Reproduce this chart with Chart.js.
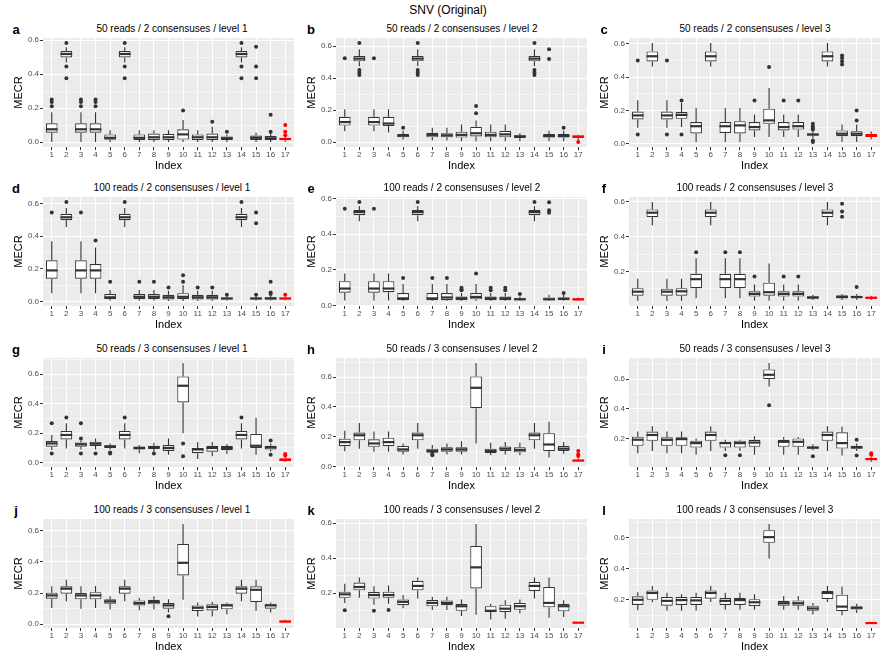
<!DOCTYPE html>
<html lang="en">
<head>
<meta charset="UTF-8">
<title>SNV (Original)</title>
<script src="https://cdn.jsdelivr.net/npm/chart.js"></script>
<style>
  body { margin: 0; background: #fff; font-family: "Liberation Sans", Arial, sans-serif; }
  #page { position: relative; width: 896px; height: 656px; overflow: hidden; }
  .main-title { position: absolute; top: 3px; left: 0; width: 896px; text-align: center; font-size: 12px; color: #000; }
  .letter { position: absolute; font-weight: bold; font-size: 13px; color: #000; transform: translate(-50%, -50%); }
  .sub { position: absolute; font-size: 10px; color: #000; white-space: nowrap; transform: translate(-50%, -50%); }
  canvas { position: absolute; }
</style>
</head>
<body>
<div id="page">
  <div class="main-title">SNV (Original)</div>
</div>
<script>
// categories on the x axis
const xLabels = [1, 2, 3, 4, 5, 6, 7, 8, 9, 10, 11, 12, 13, 14, 15, 16, 17];
const panelLetters = ['a', 'b', 'c', 'd', 'e', 'f', 'g', 'h', 'i', 'j', 'k', 'l'];
const panelTitles = [
  '50 reads / 2 consensuses / level 1', '50 reads / 2 consensuses / level 2', '50 reads / 2 consensuses / level 3',
  '100 reads / 2 consensuses / level 1', '100 reads / 2 consensuses / level 2', '100 reads / 2 consensuses / level 3',
  '50 reads / 3 consensuses / level 1', '50 reads / 3 consensuses / level 2', '50 reads / 3 consensuses / level 3',
  '100 reads / 3 consensuses / level 1', '100 reads / 3 consensuses / level 2', '100 reads / 3 consensuses / level 3'
];

// each box: [lower whisker, q1, median, q3, upper whisker]
const boxA = [
  [0.0, 0.055, 0.075, 0.11, 0.175], [0.468, 0.498, 0.518, 0.535, 0.557], [0.0, 0.055, 0.075, 0.11, 0.175],
  [0.0, 0.055, 0.075, 0.11, 0.175], [0.0, 0.014, 0.025, 0.045, 0.07], [0.468, 0.498, 0.518, 0.535, 0.557],
  [0.0, 0.012, 0.025, 0.045, 0.07], [0.0, 0.012, 0.028, 0.05, 0.07], [0.0, 0.012, 0.028, 0.048, 0.07],
  [0.0, 0.015, 0.045, 0.075, 0.13], [0.0, 0.012, 0.028, 0.045, 0.07], [0.0, 0.012, 0.028, 0.05, 0.09],
  [0.0, 0.012, 0.022, 0.032, 0.045], [0.468, 0.498, 0.518, 0.535, 0.557], [0.0, 0.012, 0.025, 0.038, 0.055],
  [0.0, 0.012, 0.022, 0.035, 0.055], [0.0, 0.012, 0.018, 0.022, 0.03]
];
const outA = [[0.21, 0.235, 0.25], [0.375, 0.445, 0.583], [0.21, 0.235, 0.25], [0.21, 0.235, 0.25], [], [0.375, 0.445, 0.583],
  [], [], [], [0.185], [], [0.12], [0.06], [0.375, 0.445, 0.583], [0.375, 0.445, 0.56], [0.06, 0.16], [0.04, 0.06, 0.1]];

const boxB = [
  [0.068, 0.103, 0.125, 0.158, 0.205], [0.475, 0.505, 0.522, 0.539, 0.58], [0.068, 0.103, 0.125, 0.158, 0.205],
  [0.06, 0.1, 0.116, 0.158, 0.205], [0.015, 0.03, 0.04, 0.05, 0.07], [0.475, 0.505, 0.522, 0.539, 0.58],
  [0.01, 0.03, 0.045, 0.058, 0.09], [0.01, 0.03, 0.042, 0.055, 0.09], [0.005, 0.028, 0.045, 0.065, 0.11],
  [0.005, 0.035, 0.055, 0.095, 0.135], [0.005, 0.03, 0.045, 0.065, 0.11], [0.005, 0.03, 0.048, 0.07, 0.11],
  [0.005, 0.025, 0.035, 0.042, 0.055], [0.475, 0.505, 0.522, 0.539, 0.58], [0.005, 0.028, 0.038, 0.05, 0.07],
  [0.005, 0.028, 0.038, 0.05, 0.07], [0.01, 0.025, 0.035, 0.04, 0.045]
];
const outB = [[0.525], [0.62, 0.45, 0.435, 0.42], [0.525], [], [0.09], [0.62, 0.45, 0.435, 0.42], [], [], [],
  [0.18, 0.225], [], [], [], [0.62, 0.45, 0.435, 0.42], [0.52, 0.58], [0.09], [0.0]];

const boxC = [
  [0.096, 0.146, 0.17, 0.193, 0.261], [0.464, 0.494, 0.525, 0.554, 0.605], [0.096, 0.146, 0.17, 0.193, 0.261],
  [0.1, 0.15, 0.173, 0.19, 0.245], [0.01, 0.062, 0.105, 0.13, 0.215], [0.464, 0.494, 0.525, 0.554, 0.605],
  [0.01, 0.065, 0.105, 0.13, 0.215], [0.01, 0.062, 0.11, 0.135, 0.215], [0.04, 0.08, 0.1, 0.13, 0.175],
  [0.04, 0.12, 0.14, 0.21, 0.335], [0.04, 0.08, 0.1, 0.13, 0.175], [0.04, 0.085, 0.105, 0.13, 0.175],
  [0.035, 0.05, 0.055, 0.062, 0.075], [0.464, 0.494, 0.525, 0.554, 0.605], [0.01, 0.045, 0.06, 0.08, 0.115],
  [0.01, 0.045, 0.06, 0.075, 0.115], [0.025, 0.04, 0.048, 0.058, 0.075]
];
const outC = [[0.5, 0.055], [], [0.5, 0.055], [0.26, 0.055], [], [], [], [], [0.26], [0.46], [0.26], [0.26],
  [0.085, 0.095, 0.105, 0.12, 0.02, 0.01], [], [0.475, 0.495, 0.515, 0.53], [0.14, 0.2], []];

const boxD = [
  [0.05, 0.139, 0.19, 0.252, 0.369], [0.457, 0.498, 0.516, 0.537, 0.573], [0.05, 0.139, 0.19, 0.252, 0.369],
  [0.05, 0.139, 0.19, 0.229, 0.33], [0.005, 0.015, 0.025, 0.045, 0.07], [0.457, 0.498, 0.516, 0.537, 0.573],
  [0.005, 0.015, 0.028, 0.045, 0.07], [0.005, 0.015, 0.028, 0.045, 0.07], [0.002, 0.012, 0.025, 0.04, 0.065],
  [0.002, 0.015, 0.028, 0.05, 0.1], [0.002, 0.012, 0.025, 0.04, 0.065], [0.002, 0.012, 0.025, 0.04, 0.065],
  [0.005, 0.012, 0.018, 0.022, 0.03], [0.457, 0.498, 0.516, 0.537, 0.573], [0.005, 0.012, 0.018, 0.022, 0.03],
  [0.005, 0.012, 0.018, 0.025, 0.035], [0.005, 0.012, 0.018, 0.022, 0.03]
];
const outD = [[0.545], [0.61], [0.545], [0.373], [0.12], [0.61], [0.12], [0.12], [0.085], [0.12, 0.16], [0.085], [0.085],
  [0.04], [0.61], [0.04, 0.48, 0.545], [0.045, 0.055, 0.12], [0.04]];

const boxE = [
  [0.028, 0.072, 0.095, 0.136, 0.18], [0.473, 0.507, 0.524, 0.536, 0.558], [0.028, 0.072, 0.095, 0.136, 0.18],
  [0.028, 0.075, 0.095, 0.136, 0.18], [0.025, 0.03, 0.04, 0.07, 0.12], [0.473, 0.507, 0.524, 0.536, 0.558],
  [0.025, 0.03, 0.04, 0.07, 0.12], [0.025, 0.03, 0.045, 0.07, 0.12], [0.025, 0.03, 0.04, 0.05, 0.07],
  [0.025, 0.035, 0.048, 0.07, 0.12], [0.025, 0.03, 0.04, 0.05, 0.07], [0.025, 0.03, 0.04, 0.05, 0.07],
  [0.025, 0.03, 0.035, 0.04, 0.05], [0.473, 0.507, 0.524, 0.536, 0.558], [0.025, 0.03, 0.035, 0.045, 0.06],
  [0.025, 0.03, 0.038, 0.045, 0.06], [0.025, 0.028, 0.035, 0.038, 0.045]
];
const outE = [[0.543], [0.581], [0.543], [], [0.155], [0.581], [0.155], [0.155], [0.085, 0.09, 0.1], [0.18],
  [0.085, 0.1], [0.085, 0.1], [0.065], [0.581], [0.52, 0.535, 0.58], [0.07], []];

const boxF = [
  [0.029, 0.06, 0.083, 0.103, 0.157], [0.466, 0.513, 0.538, 0.557, 0.6], [0.029, 0.06, 0.083, 0.1, 0.157],
  [0.029, 0.06, 0.085, 0.103, 0.157], [0.045, 0.103, 0.155, 0.186, 0.275], [0.466, 0.513, 0.538, 0.557, 0.6],
  [0.045, 0.103, 0.155, 0.186, 0.275], [0.045, 0.103, 0.155, 0.186, 0.275], [0.03, 0.055, 0.07, 0.085, 0.125],
  [0.03, 0.06, 0.08, 0.135, 0.245], [0.03, 0.055, 0.07, 0.085, 0.125], [0.03, 0.055, 0.07, 0.085, 0.125],
  [0.035, 0.042, 0.05, 0.055, 0.065], [0.466, 0.513, 0.538, 0.557, 0.6], [0.035, 0.045, 0.052, 0.062, 0.07],
  [0.035, 0.045, 0.052, 0.06, 0.07], [0.035, 0.042, 0.048, 0.052, 0.06]
];
const outF = [[], [], [], [], [0.31], [], [0.31], [0.31], [0.17], [], [0.17], [0.17], [], [], [0.515, 0.545, 0.59], [0.11], []];

const boxG = [
  [0.086, 0.109, 0.131, 0.147, 0.188], [0.097, 0.158, 0.188, 0.215, 0.267], [0.09, 0.109, 0.125, 0.138, 0.15],
  [0.09, 0.113, 0.129, 0.143, 0.165], [0.09, 0.1, 0.11, 0.118, 0.13], [0.097, 0.158, 0.188, 0.215, 0.267],
  [0.065, 0.09, 0.1, 0.11, 0.12], [0.075, 0.093, 0.105, 0.115, 0.135], [0.055, 0.08, 0.1, 0.12, 0.165],
  [0.2, 0.408, 0.521, 0.584, 0.675], [0.025, 0.065, 0.09, 0.1, 0.14], [0.045, 0.075, 0.1, 0.115, 0.14],
  [0.06, 0.085, 0.1, 0.113, 0.125], [0.097, 0.158, 0.188, 0.215, 0.267], [0.055, 0.1, 0.115, 0.195, 0.305],
  [0.075, 0.09, 0.105, 0.115, 0.13], [0.005, 0.012, 0.02, 0.03, 0.04]
];
const outG = [[0.267, 0.063], [0.306], [0.267, 0.165, 0.063], [0.063], [0.063, 0.07], [0.306], [], [0.063], [],
  [0.131, 0.045], [], [], [], [0.306], [], [0.15, 0.055], [0.05, 0.06]];

const boxH = [
  [0.103, 0.137, 0.164, 0.187, 0.24], [0.119, 0.176, 0.21, 0.228, 0.292], [0.1, 0.132, 0.155, 0.183, 0.235],
  [0.1, 0.137, 0.164, 0.194, 0.235], [0.08, 0.1, 0.115, 0.138, 0.155], [0.119, 0.176, 0.21, 0.228, 0.292],
  [0.09, 0.092, 0.105, 0.12, 0.145], [0.08, 0.1, 0.115, 0.13, 0.155], [0.08, 0.1, 0.115, 0.13, 0.17],
  [0.155, 0.392, 0.529, 0.605, 0.696], [0.075, 0.09, 0.105, 0.12, 0.16], [0.08, 0.105, 0.12, 0.135, 0.165],
  [0.075, 0.095, 0.112, 0.13, 0.16], [0.119, 0.176, 0.21, 0.228, 0.292], [0.06, 0.103, 0.148, 0.224, 0.3],
  [0.085, 0.105, 0.12, 0.138, 0.165], [0.03, 0.035, 0.04, 0.045, 0.055]
];
const outH = [[], [], [], [], [], [], [0.075, 0.085], [], [], [], [], [], [], [], [], [], [0.07, 0.08, 0.105]];

const boxI = [
  [0.1, 0.15, 0.191, 0.211, 0.246], [0.115, 0.184, 0.223, 0.246, 0.282], [0.1, 0.15, 0.19, 0.207, 0.246],
  [0.1, 0.15, 0.195, 0.207, 0.246], [0.09, 0.138, 0.168, 0.184, 0.2], [0.115, 0.184, 0.223, 0.246, 0.282],
  [0.115, 0.138, 0.168, 0.177, 0.19], [0.115, 0.138, 0.168, 0.184, 0.19], [0.09, 0.143, 0.172, 0.19, 0.215],
  [0.55, 0.6, 0.63, 0.666, 0.71], [0.09, 0.143, 0.177, 0.19, 0.21], [0.09, 0.143, 0.177, 0.2, 0.21],
  [0.12, 0.13, 0.138, 0.145, 0.16], [0.115, 0.184, 0.223, 0.246, 0.282], [0.085, 0.131, 0.168, 0.241, 0.28],
  [0.115, 0.13, 0.14, 0.15, 0.165], [0.04, 0.055, 0.06, 0.065, 0.075]
];
const outI = [[], [], [], [], [], [], [0.086], [0.086], [], [0.424], [], [], [0.08], [], [], [0.19, 0.085], [0.09, 0.1]];

const boxJ = [
  [0.104, 0.164, 0.185, 0.202, 0.243], [0.147, 0.196, 0.228, 0.243, 0.285], [0.1, 0.16, 0.185, 0.2, 0.243],
  [0.105, 0.16, 0.185, 0.206, 0.245], [0.095, 0.132, 0.147, 0.16, 0.18], [0.147, 0.196, 0.228, 0.243, 0.285],
  [0.09, 0.121, 0.136, 0.153, 0.17], [0.095, 0.128, 0.143, 0.157, 0.18], [0.075, 0.1, 0.121, 0.136, 0.16],
  [0.157, 0.313, 0.394, 0.515, 0.643], [0.05, 0.085, 0.106, 0.121, 0.14], [0.05, 0.089, 0.111, 0.128, 0.145],
  [0.065, 0.096, 0.121, 0.132, 0.14], [0.147, 0.196, 0.228, 0.243, 0.285], [0.085, 0.143, 0.221, 0.243, 0.285],
  [0.075, 0.1, 0.121, 0.132, 0.14], [0.008, 0.012, 0.018, 0.022, 0.03]
];
const outJ = [[], [], [], [], [], [], [], [], [0.051], [], [], [], [], [], [], [], []];

const boxK = [
  [0.145, 0.174, 0.194, 0.209, 0.255], [0.174, 0.217, 0.236, 0.261, 0.29], [0.135, 0.17, 0.19, 0.207, 0.24],
  [0.14, 0.174, 0.19, 0.209, 0.245], [0.115, 0.132, 0.151, 0.165, 0.19], [0.17, 0.217, 0.242, 0.271, 0.29],
  [0.105, 0.126, 0.145, 0.161, 0.18], [0.105, 0.132, 0.145, 0.159, 0.18], [0.07, 0.1, 0.126, 0.139, 0.165],
  [0.077, 0.228, 0.348, 0.47, 0.596], [0.05, 0.093, 0.1, 0.126, 0.14], [0.055, 0.093, 0.112, 0.135, 0.16],
  [0.085, 0.106, 0.126, 0.145, 0.165], [0.17, 0.213, 0.242, 0.265, 0.29], [0.06, 0.12, 0.145, 0.236, 0.29],
  [0.065, 0.097, 0.126, 0.139, 0.16], [0.03, 0.03, 0.032, 0.033, 0.033]
];
const outK = [[0.103], [], [0.1], [0.105], [], [], [], [], [], [], [], [], [], [], [], [], []];

const boxL = [
  [0.133, 0.167, 0.2, 0.222, 0.249], [0.184, 0.2, 0.244, 0.26, 0.289], [0.13, 0.162, 0.193, 0.218, 0.245],
  [0.13, 0.167, 0.198, 0.218, 0.235], [0.13, 0.167, 0.196, 0.218, 0.245], [0.185, 0.207, 0.244, 0.26, 0.289],
  [0.135, 0.167, 0.193, 0.211, 0.245], [0.135, 0.167, 0.198, 0.211, 0.245], [0.135, 0.16, 0.184, 0.204, 0.235],
  [0.467, 0.567, 0.604, 0.649, 0.689], [0.135, 0.162, 0.178, 0.193, 0.225], [0.135, 0.162, 0.178, 0.196, 0.225],
  [0.105, 0.129, 0.144, 0.162, 0.18], [0.185, 0.204, 0.244, 0.256, 0.289], [0.1, 0.127, 0.156, 0.233, 0.285],
  [0.115, 0.138, 0.149, 0.156, 0.175], [0.05, 0.05, 0.05, 0.05, 0.05]
];
const outL = [[], [], [], [], [], [], [], [], [], [], [], [], [], [], [], [], []];

const panelBoxes = [boxA, boxB, boxC, boxD, boxE, boxF, boxG, boxH, boxI, boxJ, boxK, boxL];
const panelOutliers = [outA, outB, outC, outD, outE, outF, outG, outH, outI, outJ, outK, outL];

// page layout
const colLeft = [1, 294, 587];
const rowTop = [30, 189, 350, 511];
const subCenterX = [172, 462, 755];
const letterX = [16, 311, 604];
const PAD_TOP = 8, PLOT_H = 109, X_AXIS_H = 27, Y_AXIS_W = 42, CANVAS_W = 300;
const DARK = '#333333', RED = '#ff0000';

Chart.defaults.font.family = "'Liberation Sans', Arial, sans-serif";

const isMajor = v => Math.abs(Math.round(v * 10)) % 2 === 0;
const boxColor = i => (i === xLabels.length - 1 ? RED : DARK);

function yRange(boxes, outs) {
  let lo = Infinity, hi = -Infinity;
  boxes.forEach((b, i) => {
    lo = Math.min(lo, b[0], ...outs[i]);
    hi = Math.max(hi, b[4], ...outs[i]);
  });
  const pad = (hi - lo) * 0.05;
  return [lo - pad, hi + pad];
}

function boxParts(boxes) {
  return {
    id: 'boxParts',
    beforeDraw(chart) {
      const a = chart.chartArea, ctx = chart.ctx;
      ctx.save();
      ctx.fillStyle = '#EBEBEB';
      ctx.fillRect(a.left, a.top, a.right - a.left, a.bottom - a.top);
      ctx.restore();
    },
    beforeDatasetsDraw(chart) {
      const ctx = chart.ctx, y = chart.scales.y;
      const bars = chart.getDatasetMeta(0).data;
      ctx.save();
      ctx.lineWidth = 1.1;
      boxes.forEach((b, i) => {
        const x = bars[i].x;
        ctx.strokeStyle = boxColor(i);
        ctx.beginPath();
        ctx.moveTo(x, y.getPixelForValue(b[3]));
        ctx.lineTo(x, y.getPixelForValue(b[4]));
        ctx.moveTo(x, y.getPixelForValue(b[1]));
        ctx.lineTo(x, y.getPixelForValue(b[0]));
        ctx.stroke();
      });
      ctx.restore();
    },
    afterDatasetsDraw(chart) {
      const ctx = chart.ctx, y = chart.scales.y;
      const bars = chart.getDatasetMeta(0).data;
      ctx.save();
      ctx.lineWidth = 2.2;
      boxes.forEach((b, i) => {
        const el = bars[i];
        const py = y.getPixelForValue(b[2]);
        ctx.strokeStyle = boxColor(i);
        ctx.beginPath();
        ctx.moveTo(el.x - el.width / 2, py);
        ctx.lineTo(el.x + el.width / 2, py);
        ctx.stroke();
      });
      ctx.restore();
    }
  };
}

const page = document.getElementById('page');

panelBoxes.forEach((boxes, p) => {
  const outs = panelOutliers[p];
  const col = p % 3, row = Math.floor(p / 3);
  const greyTop = rowTop[row] + PAD_TOP;

  const letter = document.createElement('div');
  letter.className = 'letter';
  letter.textContent = panelLetters[p];
  letter.style.left = letterX[col] + 'px';
  letter.style.top = (greyTop - 9) + 'px';
  page.appendChild(letter);

  const sub = document.createElement('div');
  sub.className = 'sub';
  sub.textContent = panelTitles[p];
  sub.style.left = subCenterX[col] + 'px';
  sub.style.top = (greyTop - 10) + 'px';
  page.appendChild(sub);

  const canvas = document.createElement('canvas');
  const h = PAD_TOP + PLOT_H + X_AXIS_H;
  canvas.width = CANVAS_W; canvas.height = h;
  canvas.style.width = CANVAS_W + 'px'; canvas.style.height = h + 'px';
  canvas.style.left = colLeft[col] + 'px';
  canvas.style.top = rowTop[row] + 'px';
  page.appendChild(canvas);

  const [yMin, yMax] = yRange(boxes, outs);
  const points = [];
  outs.forEach((vals, i) => vals.forEach(v => points.push({ x: xLabels[i], y: v })));

  new Chart(canvas, {
    type: 'bar',
    data: {
      datasets: [{
        type: 'bar',
        data: boxes.map((b, i) => ({ x: xLabels[i], y: [b[1], b[3]] })),
        backgroundColor: '#ffffff',
        borderColor: xLabels.map((_, i) => boxColor(i)),
        borderWidth: 1.1,
        borderSkipped: false,
        barPercentage: 1,
        categoryPercentage: 0.8,
        order: 2
      }, {
        type: 'scatter',
        data: points,
        pointRadius: 2,
        pointBorderWidth: 0,
        pointBackgroundColor: ctx => (ctx.raw && ctx.raw.x === 17 ? RED : DARK),
        order: 1
      }]
    },
    options: {
      responsive: false,
      animation: false,
      layout: { padding: { top: PAD_TOP, right: CANVAS_W - Y_AXIS_W - 251, bottom: 0, left: 0 } },
      plugins: { legend: { display: false }, tooltip: { enabled: false }, title: { display: false } },
      scales: {
        x: {
          type: 'linear',
          min: 0.4,
          max: 17.6,
          offset: false,
          afterBuildTicks: s => { s.ticks = xLabels.map(v => ({ value: v })); },
          afterFit: s => { s.height = X_AXIS_H; },
          grid: { offset: false, color: '#ffffff', lineWidth: 1, tickColor: DARK, tickLength: 3, tickWidth: 1 },
          border: { display: false },
          ticks: { autoSkip: false, maxRotation: 0, padding: 0, color: '#4D4D4D', font: { size: 8 }, callback: v => String(v) },
          title: { display: true, text: 'Index', color: '#000', font: { size: 11 }, padding: { top: 0, bottom: 1 } }
        },
        y: {
          type: 'linear',
          min: yMin,
          max: yMax,
          afterBuildTicks: s => {
            const t = [];
            for (let k = Math.ceil(s.min * 10 - 1e-9); k <= Math.floor(s.max * 10 + 1e-9); k++) t.push({ value: k / 10 });
            s.ticks = t;
          },
          afterFit: s => { s.width = Y_AXIS_W; },
          grid: {
            color: '#ffffff',
            lineWidth: c => (isMajor(c.tick.value) ? 1 : 0.5),
            tickColor: c => (isMajor(c.tick.value) ? DARK : 'rgba(0,0,0,0)'),
            tickWidth: 1,
            tickLength: 3
          },
          border: { display: false },
          ticks: {
            autoSkip: false, padding: 1, color: '#4D4D4D', font: { size: 8 },
            callback: v => (isMajor(v) ? v.toFixed(1) : '')
          },
          title: { display: true, text: 'MECR', color: '#000', font: { size: 11 }, padding: { top: 11, bottom: 0 } }
        }
      }
    },
    plugins: [boxParts(boxes)]
  });
});
</script>
</body>
</html>
